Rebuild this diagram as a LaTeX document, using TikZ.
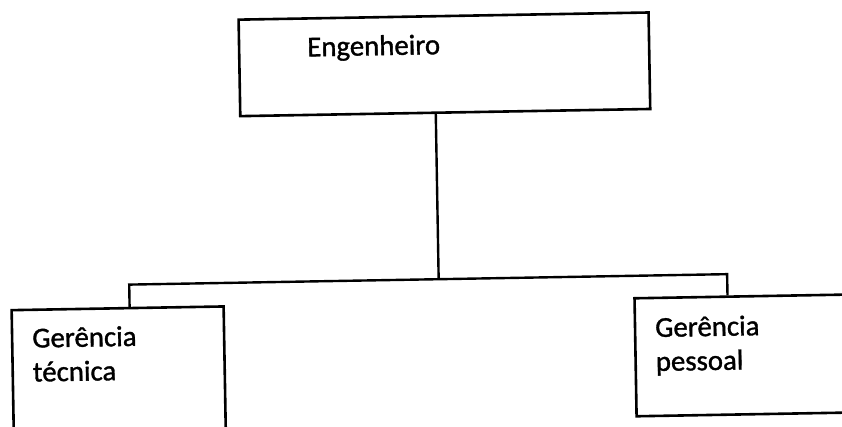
\documentclass[tikz,border=0pt]{standalone}
\usepackage{fontspec}
\setmainfont{Carlito}
\newfontfamily\scanfont{Carlito}[FakeBold=1.2]
\begin{document}
\begin{tikzpicture}[x=1pt,y=-1pt,
  box/.style={draw=black,line width=2.6pt,rectangle,inner sep=0pt,transform shape},
  lbl/.style={font=\scanfont\fontsize{28.8}{34}\selectfont,anchor=west,inner sep=0pt,align=left,transform shape},
  conn/.style={draw=black,line width=2.4pt}]
\useasboundingbox (0,0) rectangle (842,427);
\clip (0,0) rectangle (842,427);
\begin{scope}[rotate around={1:(421,213)}]
  \node[box,minimum width=410pt,minimum height=96.5pt] (eng) at (447,64.75) {};
  \node[box,minimum width=212pt,minimum height=147pt] (gt) at (116,376.5) {};
  \node[box,minimum width=237pt,minimum height=118pt] (gp) at (751.5,361) {};
  \node[lbl] (teng) at (310,47) {Engenheiro};
  \node[lbl] (tgt) at (30,348) {Gerência\\técnica};
  \node[lbl] (tgp) at (653,350.5) {Gerência\\pessoal};
  \coordinate (j) at (437.5,279.5);
  \coordinate (jl) at (128,279.5);
  \coordinate (jr) at (726,279.5);
  \draw[conn] (eng.south -| j) -- (j);
  \draw[conn] (jl |- gt.north) -- (jl) -- (jr) -- (jr |- gp.north);
\end{scope}
\end{tikzpicture}
\end{document}
